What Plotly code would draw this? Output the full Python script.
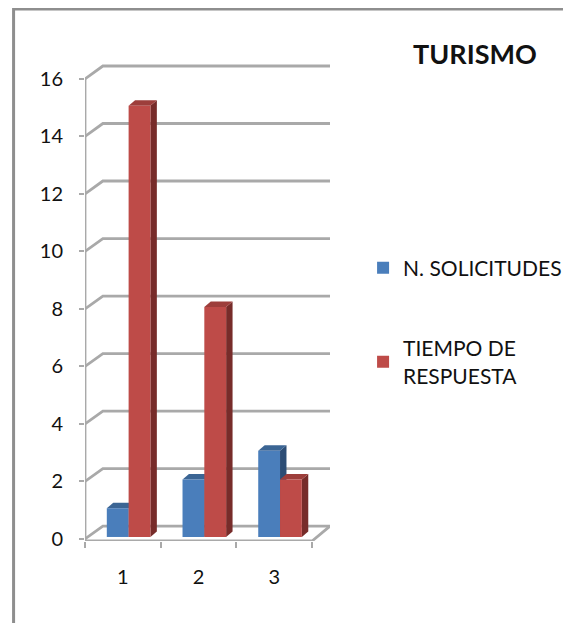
import plotly.graph_objects as go

CATEGORIES = [1, 2, 3]
SOLICITUDES = [1, 2, 3]
TIEMPO = [15, 8, 2]
Y_TICKS = [0, 2, 4, 6, 8, 10, 12, 14, 16]
X_EDGES = [0.5, 1.5, 2.5, 3.5]

BLUE = ('#4a7ebb', '#3b6594', '#2c4d75')  # front, top, side
RED = ('#be4b48', '#9d3e3b', '#772c2a')
GRID = '#a9a9a9'
FONT = 'Lato'

# how the fake 3D is built, in axis units
WALL_DX, WALL_DY = 0.236, 0.45
BAR_W, BAR_BASE = 0.288, 0.07
BAR_DX, BAR_DY = 0.085, 0.19
BLUE_OFF, RED_OFF = -0.212, 0.076


def _poly(xs, ys, color):
    path = 'M' + ' L'.join(f'{x},{y}' for x, y in zip(xs, ys)) + ' Z'
    return dict(type='path', path=path, fillcolor=color, line_width=0, layer='below')


def _line(xs, ys, width=2.8):
    path = 'M' + ' L'.join(f'{x},{y}' for x, y in zip(xs, ys))
    return dict(type='path', path=path, line=dict(color=GRID, width=width), layer='below')


def _depth(values, offset, colors):
    """Top and side faces of one series, placed from its values."""
    out = []
    for c, v in zip(CATEGORIES, values):
        x0 = c + offset
        x1 = x0 + BAR_W
        top = v + BAR_BASE
        out.append(_poly([x1, x1 + BAR_DX, x1 + BAR_DX, x1],
                         [BAR_BASE, BAR_BASE + BAR_DY, top + BAR_DY, top], colors[2]))
        out.append(_poly([x0, x0 + BAR_DX, x1 + BAR_DX, x1],
                         [top, top + BAR_DY, top + BAR_DY, top], colors[1]))
    return out


X_END = X_EDGES[-1]
shapes = []
for v in Y_TICKS:
    shapes.append(_line([X_EDGES[0], X_EDGES[0] + WALL_DX, X_END + WALL_DX],
                        [v, v + WALL_DY, v + WALL_DY]))
shapes.append(_line([X_EDGES[0], X_EDGES[0]], [-0.07, Y_TICKS[-1]]))
# floor
shapes.append(_line([X_EDGES[0], X_END, X_END + WALL_DX], [-0.07, -0.07, WALL_DY]))
shapes += _depth(SOLICITUDES, BLUE_OFF, BLUE)
shapes += _depth(TIEMPO, RED_OFF, RED)
# page frame, only top and left sides show
shapes.append(dict(type='path', xref='paper', yref='paper',
                   path='M -0.2915,-0.19 L -0.2915,1.1153 L 1.97,1.1153',
                   line=dict(color='#8e8e8e', width=3)))

fig = go.Figure()
fig.add_trace(go.Bar(x=CATEGORIES, y=SOLICITUDES, base=BAR_BASE, width=BAR_W, offset=BLUE_OFF,
                     marker=dict(color=BLUE[0], line_width=0), name='N. SOLICITUDES',
                     legendgroup='a'))
fig.add_trace(go.Bar(x=CATEGORIES, y=TIEMPO, base=BAR_BASE, width=BAR_W, offset=RED_OFF,
                     marker=dict(color=RED[0], line_width=0), name='TIEMPO DE<br>RESPUESTA',
                     legendgroup='b'))

fig.update_layout(
    width=571, height=623,
    margin=dict(l=77, r=247, t=56, b=90),
    paper_bgcolor='white', plot_bgcolor='rgba(0,0,0,0)',
    font=dict(family=FONT, size=20, color='#111111'),
    title=dict(text='<b>TURISMO</b>', font=dict(family=FONT, size=27, color='#111111'),
               x=467 / 571, xref='container', xanchor='center',
               y=1 - 47 / 623, yref='container', yanchor='middle'),
    barmode='overlay',
    shapes=shapes,
    showlegend=True,
    legend=dict(x=1.135, xanchor='left', y=0.615, yanchor='top', tracegroupgap=50,
                traceorder='grouped', itemclick=False, font=dict(size=21),
                bgcolor='rgba(0,0,0,0)'),
    xaxis=dict(range=[X_EDGES[0], X_END + WALL_DX], tickmode='array', tickvals=CATEGORIES,
               ticks='', showgrid=False, zeroline=False, showline=False,
               ticklabelstandoff=22,
               minor=dict(tickmode='array', tickvals=X_EDGES, ticks='outside', ticklen=6,
                          tickwidth=2, tickcolor=GRID, showgrid=False)),
    yaxis=dict(range=[-0.07, 16.52], tickmode='array', tickvals=Y_TICKS,
               ticks='outside', ticklen=5, tickwidth=2, tickcolor=GRID,
               showgrid=False, zeroline=False, showline=False, ticklabelstandoff=12),
)

fig.write_html('out.html')
